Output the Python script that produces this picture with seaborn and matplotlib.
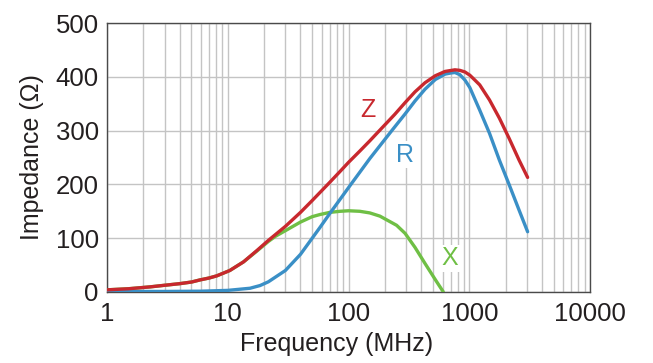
import numpy as np
import pandas as pd
import matplotlib
matplotlib.use("Agg")
import matplotlib.pyplot as plt
import matplotlib.ticker as mticker
import seaborn as sns

# Impedance curves (frequency in MHz, values in ohm)
freq_z = [1, 1.5, 2.27, 3, 4, 5, 5.9, 7, 8.1, 10.4, 13.5, 17.4, 21.7, 30, 40,
          50, 58, 70, 85, 100, 124, 150, 182, 241, 294, 355, 430, 523, 630,
          760, 835, 920, 1010, 1100, 1220, 1470, 1776, 2143, 2586, 3040]
imp_z = [4, 6, 9.5, 12.5, 15.5, 18.5, 22.5, 26, 30, 40, 56, 77, 96, 122, 148,
         170, 185, 204, 224, 241, 262, 281, 301, 330, 352, 372, 389, 402, 410,
         413, 412, 409, 403, 395, 385, 357, 323, 285, 245, 213]

freq_r = [1, 3, 6, 10, 15.3, 18.5, 21.7, 30, 40, 50, 58, 70, 103, 150, 230,
          294, 355, 430, 523, 630, 700, 760, 835, 920, 1010, 1220, 1470, 1776,
          2143, 2586, 3040]
imp_r = [1, 1, 1.5, 3, 7, 12, 19, 40, 70, 100, 120, 146, 198, 248, 301,
         331, 355, 377, 395, 405, 407, 408, 404, 394, 380, 338, 295, 245,
         199, 152, 112]

freq_x = [1, 1.5, 2.27, 3, 4, 5, 5.9, 7, 8.1, 10.4, 13.5, 17.4, 21.7, 25, 30,
          40, 50, 58, 70, 85, 100, 124, 150, 182, 250, 294, 355, 430, 523, 610]
imp_x = [4, 6, 9.5, 12.5, 15.5, 18.5, 22.5, 26, 30, 40, 56, 76, 94, 104, 114,
         130, 140, 144, 148, 150, 151, 150, 147, 141, 124, 109, 83, 53, 23, 0]

xtick_vals = [1, 10, 100, 1000, 10000]
xtick_labels = ["1", "10", "100", "1000", "10000"]
ytick_vals = [0, 100, 200, 300, 400, 500]

red = "#c8282e"
blue = "#3a8fc6"
green = "#6fbf45"
text_col = "#231f20"

sns.set_style("white")
plt.rcParams["font.family"] = ["Liberation Sans", "DejaVu Sans"]

fig = plt.figure(figsize=(6.53, 3.63), dpi=100)
ax = fig.add_axes([0.1639, 0.1956, 0.7397, 0.741])
ax.set_xscale("log")

lw = 2.4
sns.lineplot(x=freq_x, y=imp_x, ax=ax, color=green, lw=lw, zorder=3)
sns.lineplot(x=freq_r, y=imp_r, ax=ax, color=blue, lw=lw, zorder=4)
sns.lineplot(x=freq_z, y=imp_z, ax=ax, color=red, lw=lw, zorder=5)

ax.set_xlim(1, 10000)
ax.set_ylim(0, 500)
ax.set_xticks(xtick_vals)
ax.set_xticklabels(xtick_labels)
ax.xaxis.set_minor_locator(mticker.LogLocator(base=10, subs=np.arange(2, 10)))
ax.xaxis.set_minor_formatter(mticker.NullFormatter())
ax.set_yticks(ytick_vals)

ax.grid(True, which="both", axis="x", color="#c4c4c4", lw=1.0)
ax.grid(True, which="major", axis="y", color="#c4c4c4", lw=1.0)
ax.set_axisbelow(True)
ax.tick_params(axis="both", which="both", length=0, labelsize=18.5,
               colors=text_col)
ax.tick_params(axis="x", pad=7)
ax.tick_params(axis="y", pad=6)
for sp in ax.spines.values():
    sp.set_color("#4a4a4a")
    sp.set_linewidth(1.0)

ax.set_xlabel("Frequency (MHz)", fontsize=18, color=text_col)
ax.xaxis.set_label_coords(0.476, -0.15)
ax.set_ylabel("Impedance (\u03a9)", fontsize=18, color=text_col, labelpad=8)

box = dict(facecolor="white", edgecolor="none", pad=1)
ax.text(145, 338, "Z", color=red, fontsize=18, ha="center", va="center",
        bbox=box, zorder=6)
ax.text(294, 255, "R", color=blue, fontsize=18, ha="center", va="center",
        bbox=box, zorder=6)
ax.text(693, 63, "X", color=green, fontsize=18, ha="center", va="center",
        bbox=box, zorder=6)

fig.savefig("out.png", dpi=100)
